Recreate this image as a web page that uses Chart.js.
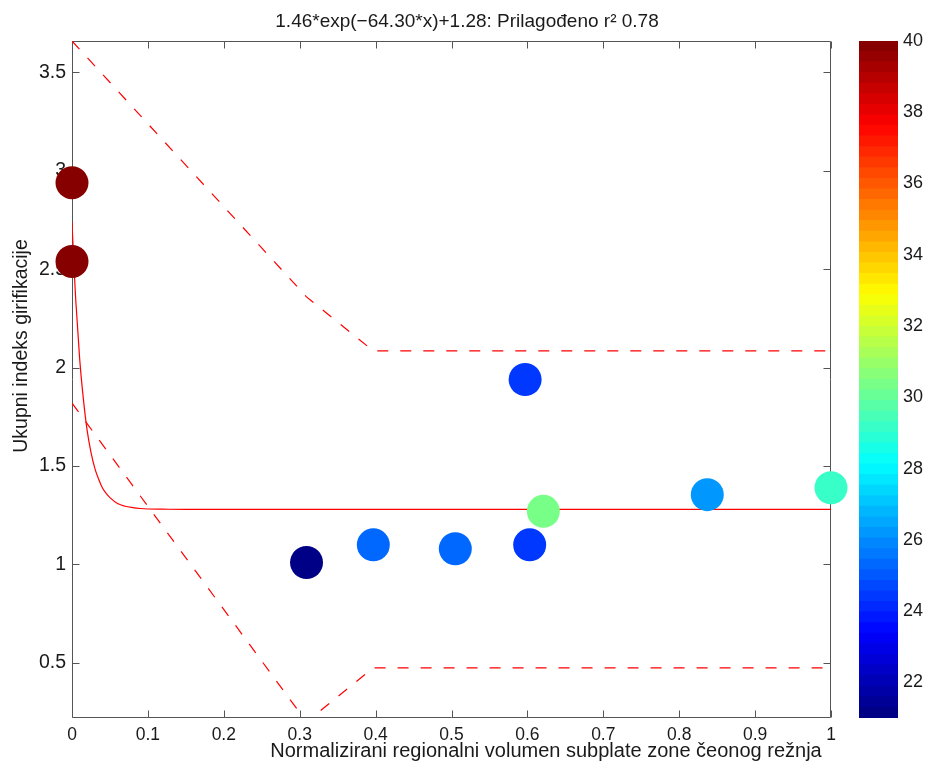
<!DOCTYPE html>
<html>
<head>
<meta charset="utf-8">
<script src="https://cdn.jsdelivr.net/npm/chart.js@4.4.0/dist/chart.umd.min.js"></script>
<style>
    html, body { margin: 0; padding: 0; background: #fff; }
    #wrap { position: relative; width: 930px; height: 771px; }
    #main { position: absolute; left: 0; top: 0; }
    #cbar { position: absolute; left: 850px; top: 0; }
</style>
</head>
<body>
<div id="wrap">
    <canvas id="main" width="930" height="771" style="width:930px;height:771px"></canvas>
    <canvas id="cbar" width="80" height="771" style="width:80px;height:771px"></canvas>
</div>
<script>
// scatter points: x, y and the colour value (colour bar scale)
var pointX = [0, 0, 0.309, 0.397, 0.505, 0.603, 0.597, 0.621, 0.837, 1.0];
var pointY = [2.94, 2.54, 1.01, 1.10, 1.08, 1.10, 1.94, 1.27, 1.355, 1.39];
var pointC = [40, 40, 21.2, 25.3, 25.3, 24.3, 24.3, 30.4, 26.2, 29.1];

// fitted curve
var fitX = [0, 0.0025, 0.005, 0.01, 0.015, 0.02, 0.025, 0.03, 0.035, 0.04, 0.045, 0.05, 0.06, 0.07, 0.08, 0.09, 0.1, 0.12, 0.15, 1.0];
var fitY = [2.74, 2.52, 2.34, 2.05, 1.84, 1.68, 1.57, 1.49, 1.434, 1.39, 1.361, 1.34, 1.31, 1.296, 1.289, 1.2845, 1.282, 1.281, 1.28, 1.28];

// dashed prediction bounds
var boundX = [0, 0.309, 0.397, 1.0];
var upperY = [3.66, 2.36, 2.085, 2.085];
var lowerY = [1.82, 0.20, 0.475, 0.475];

var xTicks = [0, 0.1, 0.2, 0.3, 0.4, 0.5, 0.6, 0.7, 0.8, 0.9, 1];
var xTickLabels = ["0", "0.1", "0.2", "0.3", "0.4", "0.5", "0.6", "0.7", "0.8", "0.9", "1"];
var yTicks = [0.5, 1, 1.5, 2, 2.5, 3, 3.5];
var yTickLabels = ["0.5", "1", "1.5", "2", "2.5", "3", "3.5"];
var cTicks = [22, 24, 26, 28, 30, 32, 34, 36, 38, 40];
var cMin = 21, cMax = 40, cLevels = 64;

var titleText = "1.46*exp(\u221264.30*x)+1.28: Prilago\u0111eno r\u00b2 0.78";
var xLabel = "Normalizirani regionalni volumen subplate zone \u010deonog re\u017enja";
var yLabel = "Ukupni indeks girifikacije";

var FONT = "'Liberation Sans', Arial, Helvetica, sans-serif";
var TEXT = "#1a1a1a";
var AXIS = "#555555";

Chart.defaults.font.family = FONT;
Chart.defaults.color = TEXT;

function jet(v) {
    var t = (v - cMin) / (cMax - cMin);
    var k = Math.min(cLevels - 1, Math.max(0, Math.floor(t * cLevels)));
    t = (k + 0.5) / cLevels;
    function c(x) { return Math.round(255 * Math.max(0, Math.min(1, x))); }
    return "rgb(" + c(1.5 - Math.abs(4 * t - 3)) + "," + c(1.5 - Math.abs(4 * t - 2)) + "," + c(1.5 - Math.abs(4 * t - 1)) + ")";
}

function xy(xs, ys) {
    return xs.map(function (x, i) { return { x: x, y: ys[i] }; });
}

function setTicks(list) {
    return function (scale) {
        scale.ticks = list.map(function (v) { return { value: v }; });
    };
}

// axis box with inward ticks on every side
var boxTicks = {
    id: "boxTicks",
    beforeDatasetsDraw: function (chart, args, opts) {
        var a = chart.chartArea, ctx = chart.ctx, len = opts.len || 7;
        var l = Math.round(a.left) + 0.5, r = Math.round(a.right) - 0.5;
        var t = Math.round(a.top) + 0.5, b = Math.round(a.bottom) - 0.5;
        ctx.save();
        ctx.strokeStyle = AXIS;
        ctx.lineWidth = 1;
        ctx.beginPath();
        ctx.rect(l, t, r - l, b - t);
        Object.keys(chart.scales).forEach(function (id) {
            var s = chart.scales[id];
            if (!s.options.display) return;
            s.ticks.forEach(function (tk) {
                var p = Math.round(s.getPixelForValue(tk.value)) + 0.5;
                if (s.isHorizontal()) {
                    ctx.moveTo(p, b); ctx.lineTo(p, b - len);
                    ctx.moveTo(p, t); ctx.lineTo(p, t + len);
                } else {
                    ctx.moveTo(l, p); ctx.lineTo(l + len, p);
                    ctx.moveTo(r, p); ctx.lineTo(r - len, p);
                }
            });
        });
        ctx.stroke();
        ctx.restore();
    }
};

// title and axis labels
var labels = {
    id: "labels",
    afterDraw: function (chart) {
        var ctx = chart.ctx;
        ctx.save();
        ctx.fillStyle = TEXT;
        ctx.textAlign = "center";
        ctx.textBaseline = "alphabetic";
        ctx.font = "19px " + FONT;
        ctx.fillText(titleText, 467, 27);
        ctx.font = "20px " + FONT;
        ctx.fillText(xLabel, 546, 757);
        ctx.font = "19.5px " + FONT;
        ctx.translate(27, 346);
        ctx.rotate(-Math.PI / 2);
        ctx.fillText(yLabel, 0, 0);
        ctx.restore();
    }
};

var mainChart = new Chart(document.getElementById("main"), {
    type: "scatter",
    data: {
        datasets: [{
            data: xy(pointX, pointY),
            pointRadius: 16.5,
            pointHoverRadius: 16.5,
            pointBorderWidth: 0,
            pointBackgroundColor: pointC.map(jet),
            showLine: false,
            clip: false
        }, {
            data: xy(fitX, fitY),
            showLine: true,
            borderColor: "#ff0000",
            borderWidth: 1.2,
            pointRadius: 0,
            cubicInterpolationMode: "monotone"
        }, {
            data: xy(boundX, upperY),
            showLine: true,
            borderColor: "#ff0000",
            borderWidth: 1.2,
            borderDash: [11, 12],
            pointRadius: 0
        }, {
            data: xy(boundX, lowerY),
            showLine: true,
            borderColor: "#ff0000",
            borderWidth: 1.2,
            borderDash: [11, 12],
            pointRadius: 0
        }]
    },
    options: {
        responsive: false,
        animation: false,
        devicePixelRatio: 1,
        layout: { padding: { top: 41, right: 99, bottom: 0, left: 0 } },
        plugins: {
            legend: { display: false },
            tooltip: { enabled: false },
            boxTicks: { len: 7 }
        },
        scales: {
            x: {
                type: "linear",
                min: 0,
                max: 1,
                grid: { display: false, drawTicks: false },
                border: { display: false },
                afterBuildTicks: setTicks(xTicks),
                afterFit: function (s) { s.height = 53; },
                ticks: {
                    padding: 7,
                    maxRotation: 0,
                    autoSkip: false,
                    font: { size: 17.5 },
                    callback: function (v, i) { return xTickLabels[i]; }
                }
            },
            y: {
                type: "linear",
                min: 0.22,
                max: 3.66,
                grid: { display: false, drawTicks: false },
                border: { display: false },
                afterBuildTicks: setTicks(yTicks),
                afterFit: function (s) { s.width = 72; },
                ticks: {
                    padding: 6,
                    autoSkip: false,
                    font: { size: 19.5 },
                    callback: function (v, i) { return yTickLabels[i]; }
                }
            }
        }
    },
    plugins: [boxTicks, labels]
});

// colour bar: one floating bar per colormap level
var cStep = (cMax - cMin) / cLevels;
var cDatasets = [];
for (var k = 0; k < cLevels; k++) {
    var lo = cMin + k * cStep;
    cDatasets.push({
        data: [[lo, lo + cStep]],
        backgroundColor: jet(lo + cStep / 2),
        borderWidth: 0,
        barPercentage: 1,
        categoryPercentage: 1,
        grouped: false,
        inflateAmount: 0.6
    });
}

var colorBar = new Chart(document.getElementById("cbar"), {
    type: "bar",
    data: { labels: [""], datasets: cDatasets },
    options: {
        responsive: false,
        animation: false,
        devicePixelRatio: 1,
        layout: { padding: { top: 41, right: 0, bottom: 53, left: 9 } },
        plugins: {
            legend: { display: false },
            tooltip: { enabled: false },
            boxTicks: { len: 6 }
        },
        scales: {
            x: { display: false },
            y: {
                position: "right",
                min: cMin,
                max: cMax,
                grid: { display: false, drawTicks: false },
                border: { display: false },
                afterBuildTicks: setTicks(cTicks),
                afterFit: function (s) { s.width = 32; },
                ticks: { padding: 5, autoSkip: false, font: { size: 18 } }
            }
        }
    },
    plugins: [boxTicks]
});
</script>
</body>
</html>
